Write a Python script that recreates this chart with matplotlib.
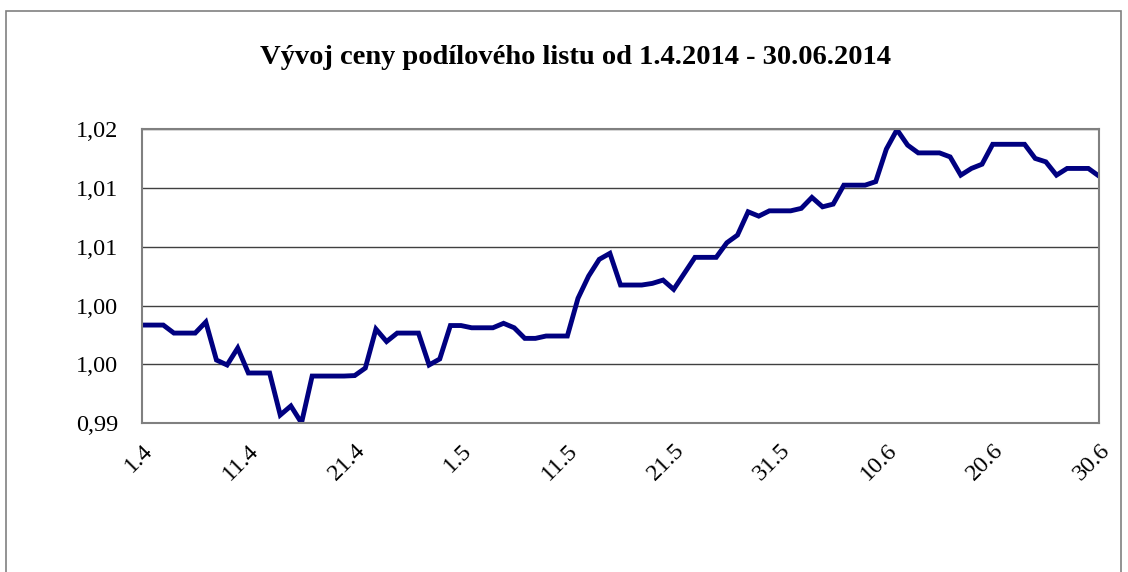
import pandas as pd
import matplotlib
matplotlib.use("Agg")
import matplotlib.pyplot as plt
from matplotlib.patches import Rectangle

# denni hodnoty 1.4.2014 - 30.6.2014
start_date = "2014-04-01"
prices = [
    0.99834, 0.99834, 0.99834, 0.99766, 0.99766, 0.99766, 0.99860, 0.99537,
    0.99495, 0.99639, 0.99427, 0.99427, 0.99427, 0.99070, 0.99147, 0.99003,
    0.99401, 0.99401, 0.99401, 0.99401, 0.99405, 0.99469, 0.99800, 0.99694,
    0.99766, 0.99766, 0.99766, 0.99495, 0.99546, 0.99830, 0.99830, 0.99811,
    0.99811, 0.99811, 0.99849, 0.99811, 0.99721, 0.99721, 0.99741, 0.99741,
    0.99741, 1.00061, 1.00250, 1.00392, 1.00443, 1.00174, 1.00174, 1.00174,
    1.00188, 1.00216, 1.00137, 1.00273, 1.00409, 1.00409, 1.00409, 1.00533,
    1.00598, 1.00796, 1.00759, 1.00804, 1.00804, 1.00804, 1.00825, 1.00918,
    1.00838, 1.00861, 1.01022, 1.01022, 1.01022, 1.01052, 1.01328, 1.01493,
    1.01362, 1.01296, 1.01296, 1.01296, 1.01262, 1.01107, 1.01164, 1.01200,
    1.01369, 1.01369, 1.01369, 1.01369, 1.01249, 1.01220, 1.01107, 1.01164,
    1.01164, 1.01164, 1.01099,
]

x_tick_labels = ["1.4", "11.4", "21.4", "1.5", "11.5", "21.5", "31.5", "10.6", "20.6", "30.6"]
y_ticks = [0.990, 0.995, 1.000, 1.005, 1.010, 1.015]
y_tick_labels = ["0,99", "1,00", "1,00", "1,01", "1,01", "1,02"]

title = "Vývoj ceny podílového listu od 1.4.2014 - 30.06.2014"

dates = pd.date_range(start_date, periods=len(prices), freq="D")
x_ticks = pd.to_datetime([f"{l}.2014" for l in x_tick_labels], format="%d.%m.%Y")

plt.rcParams["font.family"] = ["Liberation Serif", "DejaVu Serif"]

fig = plt.figure(figsize=(11.28, 5.72), dpi=100)
ax = fig.add_axes([0.1259, 0.26, 0.8484, 0.5147])

# vnejsi ramecek grafu
fig.patches.append(
    Rectangle((6 / 1128, -0.1), 1115 / 1128, 1.1 - 11 / 572,
              transform=fig.transFigure, fill=False, edgecolor="#808080", linewidth=1.2)
)

ax.plot(dates, prices, color="#000080", linewidth=3.5, solid_joinstyle="miter")

ax.set_xlim(dates[0], dates[-1])
ax.set_ylim(0.99, 1.015)
ax.set_yticks(y_ticks)
ax.set_yticklabels(y_tick_labels, fontsize=17.5)
ax.set_xticks(x_ticks)
ax.set_xticklabels(x_tick_labels, fontsize=17.5, rotation=45, ha="right",
                   rotation_mode="anchor")

ax.tick_params(axis="y", length=0, pad=17)
ax.tick_params(axis="x", length=0, pad=12)

ax.grid(axis="y", color="#404040", linewidth=1.0)
ax.set_axisbelow(True)
for side in ["left", "right", "top", "bottom"]:
    ax.spines[side].set_color("#808080")
    ax.spines[side].set_linewidth(1.5)

fig.text(0.51, 1 - 57 / 572, title, ha="center", va="center",
         fontsize=20.5, fontweight="bold")

fig.savefig("out.png", dpi=100)
